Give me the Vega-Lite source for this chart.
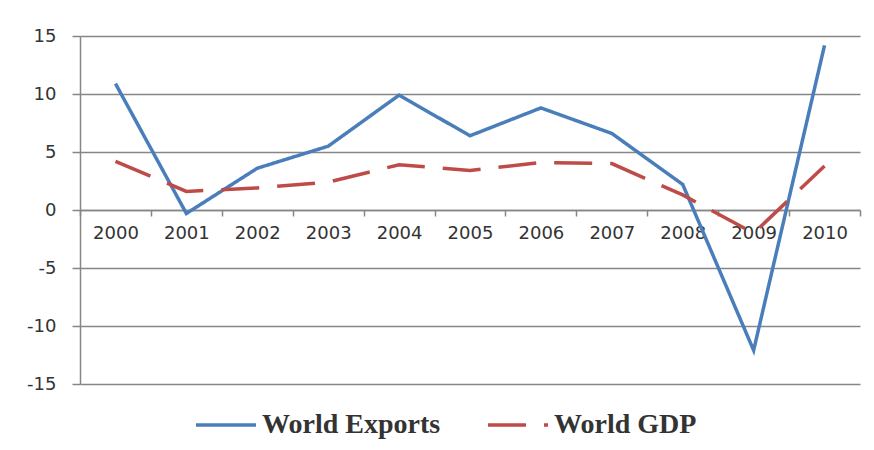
{
  "$schema": "https://vega.github.io/schema/vega-lite/v6.json",
  "autosize": "none",
  "width": 780,
  "height": 348,
  "padding": {"left": 80, "top": 36, "right": 14, "bottom": 66},
  "background": "white",
  "data": {"values": [
    {"year": "2000", "series": "World Exports", "value": 10.9},
    {"year": "2001", "series": "World Exports", "value": -0.3},
    {"year": "2002", "series": "World Exports", "value": 3.6},
    {"year": "2003", "series": "World Exports", "value": 5.5},
    {"year": "2004", "series": "World Exports", "value": 9.9},
    {"year": "2005", "series": "World Exports", "value": 6.4},
    {"year": "2006", "series": "World Exports", "value": 8.8},
    {"year": "2007", "series": "World Exports", "value": 6.6},
    {"year": "2008", "series": "World Exports", "value": 2.2},
    {"year": "2009", "series": "World Exports", "value": -12.1},
    {"year": "2010", "series": "World Exports", "value": 14.2},
    {"year": "2000", "series": "World GDP", "value": 4.2},
    {"year": "2001", "series": "World GDP", "value": 1.6},
    {"year": "2002", "series": "World GDP", "value": 1.9},
    {"year": "2003", "series": "World GDP", "value": 2.4},
    {"year": "2004", "series": "World GDP", "value": 3.9},
    {"year": "2005", "series": "World GDP", "value": 3.4},
    {"year": "2006", "series": "World GDP", "value": 4.1},
    {"year": "2007", "series": "World GDP", "value": 4.0},
    {"year": "2008", "series": "World GDP", "value": 1.3},
    {"year": "2009", "series": "World GDP", "value": -2.0},
    {"year": "2010", "series": "World GDP", "value": 3.8}
  ]},
  "mark": {"type": "line", "strokeWidth": 3.5},
  "encoding": {
    "x": {
      "field": "year", "type": "ordinal", "bandPosition": 0.5,
      "scale": {"type": "band", "paddingInner": 0, "paddingOuter": 0},
      "axis": {
        "title": null, "offset": -174, "tickBand": "extent", "grid": false,
        "labelAngle": 0, "tickSize": 6, "labelPadding": 8,
        "domainColor": "#868686", "domainWidth": 1.5, "tickColor": "#868686", "tickWidth": 1.5,
        "labelFont": "DejaVu Sans", "labelFontSize": 18, "labelColor": "#333333"
      }
    },
    "y": {
      "field": "value", "type": "quantitative",
      "scale": {"domain": [-15, 15], "nice": false, "zero": false},
      "axis": {
        "title": null, "values": [-15, -10, -5, 0, 5, 10, 15], "tickSize": 8, "labelPadding": 16,
        "labelExpr": "toString(datum.value)",
        "domainColor": "#868686", "domainWidth": 1.5, "tickColor": "#868686", "tickWidth": 1.5,
        "gridColor": "#868686", "gridWidth": 1.5, "gridOpacity": 1,
        "labelFont": "DejaVu Sans", "labelFontSize": 18, "labelColor": "#333333"
      }
    },
    "color": {
      "field": "series", "type": "nominal",
      "scale": {"domain": ["World Exports", "World GDP"], "range": ["#4A7EBB", "#BE4B48"]},
      "legend": {
        "title": null, "orient": "none", "legendX": 114, "legendY": 357, "direction": "horizontal",
        "symbolType": "stroke", "symbolSize": 3600, "symbolStrokeWidth": 3.5,
        "labelFont": "Liberation Serif", "labelFontWeight": "bold", "labelFontSize": 28,
        "labelColor": "#333333", "labelOffset": 4, "columnPadding": 40, "labelLimit": 400
      }
    },
    "strokeDash": {
      "field": "series", "type": "nominal",
      "scale": {"domain": ["World Exports", "World GDP"], "range": [[1, 0], [38, 18]]},
      "legend": null
    }
  },
  "config": {"view": {"stroke": null}}
}
